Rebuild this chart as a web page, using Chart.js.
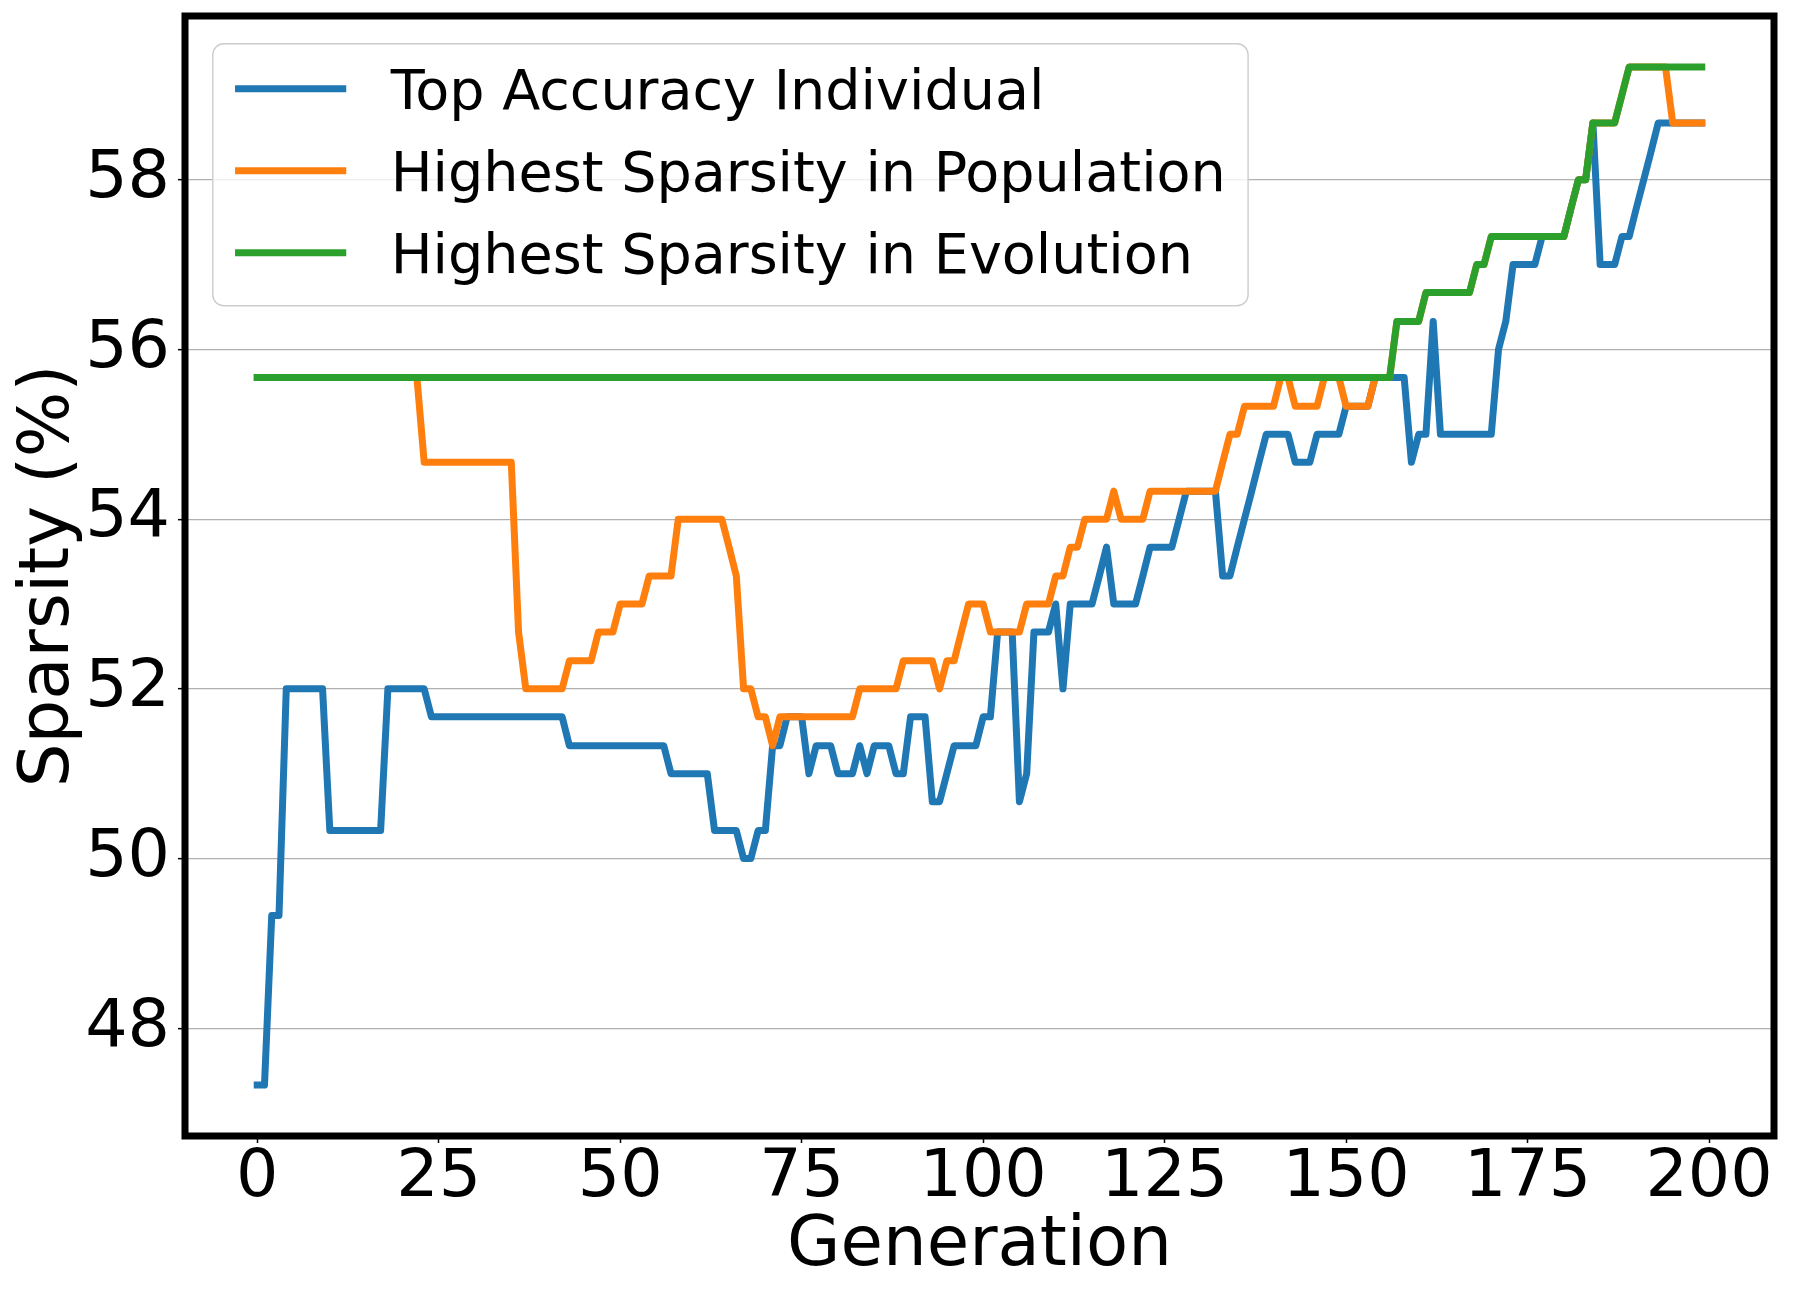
<!DOCTYPE html>
<html>
<head>
<meta charset="utf-8">
<script src="https://cdn.jsdelivr.net/npm/chart.js@4.4.1/dist/chart.umd.min.js"></script>
<style>
  html, body { margin: 0; padding: 0; background: #ffffff; }
  #wrap { width: 1800px; height: 1300px; }
</style>
</head>
<body>
<div id="wrap"><canvas id="c" width="1800" height="1300"></canvas></div>
<script>
// ---------------- data ----------------
const seriesNames = ["Top Accuracy Individual", "Highest Sparsity in Population", "Highest Sparsity in Evolution"];
const xTicks = [0, 25, 50, 75, 100, 125, 150, 175, 200];
const yTicks = [48, 50, 52, 54, 56, 58];

const topAccuracy = [
  47.33,47.33,49.33,49.33,52,52,52,52,52,52,
  50.33,50.33,50.33,50.33,50.33,50.33,50.33,50.33,52,52,
  52,52,52,52,51.67,51.67,51.67,51.67,51.67,51.67,
  51.67,51.67,51.67,51.67,51.67,51.67,51.67,51.67,51.67,51.67,
  51.67,51.67,51.67,51.33,51.33,51.33,51.33,51.33,51.33,51.33,
  51.33,51.33,51.33,51.33,51.33,51.33,51.33,51,51,51,
  51,51,51,50.33,50.33,50.33,50.33,50,50,50.33,
  50.33,51.33,51.33,51.67,51.67,51.67,51,51.33,51.33,51.33,
  51,51,51,51.33,51,51.33,51.33,51.33,51,51,
  51.67,51.67,51.67,50.67,50.67,51,51.33,51.33,51.33,51.33,
  51.67,51.67,52.67,52.67,52.67,50.67,51,52.67,52.67,52.67,
  53,52,53,53,53,53,53.33,53.67,53,53,
  53,53,53.33,53.67,53.67,53.67,53.67,54,54.33,54.33,
  54.33,54.33,54.33,53.33,53.33,53.67,54,54.33,54.67,55,
  55,55,55,54.67,54.67,54.67,55,55,55,55,
  55.33,55.33,55.33,55.33,55.67,55.67,55.67,55.67,55.67,54.67,
  55,55,56.33,55,55,55,55,55,55,55,
  55,56,56.33,57,57,57,57,57.33,57.33,57.33,
  57.33,57.67,58,58,58.67,57,57,57,57.33,57.33,
  57.67,58,58.33,58.67,58.67,58.67,58.67,58.67,58.67,58.67
];

const popSparsity = [
  55.67,55.67,55.67,55.67,55.67,55.67,55.67,55.67,55.67,55.67,
  55.67,55.67,55.67,55.67,55.67,55.67,55.67,55.67,55.67,55.67,
  55.67,55.67,55.67,54.67,54.67,54.67,54.67,54.67,54.67,54.67,
  54.67,54.67,54.67,54.67,54.67,54.67,52.67,52,52,52,
  52,52,52,52.33,52.33,52.33,52.33,52.67,52.67,52.67,
  53,53,53,53,53.33,53.33,53.33,53.33,54,54,
  54,54,54,54,54,53.67,53.33,52,52,51.67,
  51.67,51.33,51.67,51.67,51.67,51.67,51.67,51.67,51.67,51.67,
  51.67,51.67,51.67,52,52,52,52,52,52,52.33,
  52.33,52.33,52.33,52.33,52,52.33,52.33,52.67,53,53,
  53,52.67,52.67,52.67,52.67,52.67,53,53,53,53,
  53.33,53.33,53.67,53.67,54,54,54,54,54.33,54,
  54,54,54,54.33,54.33,54.33,54.33,54.33,54.33,54.33,
  54.33,54.33,54.33,54.67,55,55,55.33,55.33,55.33,55.33,
  55.33,55.67,55.67,55.33,55.33,55.33,55.33,55.67,55.67,55.67,
  55.33,55.33,55.33,55.33,55.67,55.67,55.67,56.33,56.33,56.33,
  56.33,56.67,56.67,56.67,56.67,56.67,56.67,56.67,57,57,
  57.33,57.33,57.33,57.33,57.33,57.33,57.33,57.33,57.33,57.33,
  57.33,57.67,58,58,58.67,58.67,58.67,58.67,59,59.33,
  59.33,59.33,59.33,59.33,59.33,58.67,58.67,58.67,58.67,58.67
];

const evoSparsity = [
  55.67,55.67,55.67,55.67,55.67,55.67,55.67,55.67,55.67,55.67,
  55.67,55.67,55.67,55.67,55.67,55.67,55.67,55.67,55.67,55.67,
  55.67,55.67,55.67,55.67,55.67,55.67,55.67,55.67,55.67,55.67,
  55.67,55.67,55.67,55.67,55.67,55.67,55.67,55.67,55.67,55.67,
  55.67,55.67,55.67,55.67,55.67,55.67,55.67,55.67,55.67,55.67,
  55.67,55.67,55.67,55.67,55.67,55.67,55.67,55.67,55.67,55.67,
  55.67,55.67,55.67,55.67,55.67,55.67,55.67,55.67,55.67,55.67,
  55.67,55.67,55.67,55.67,55.67,55.67,55.67,55.67,55.67,55.67,
  55.67,55.67,55.67,55.67,55.67,55.67,55.67,55.67,55.67,55.67,
  55.67,55.67,55.67,55.67,55.67,55.67,55.67,55.67,55.67,55.67,
  55.67,55.67,55.67,55.67,55.67,55.67,55.67,55.67,55.67,55.67,
  55.67,55.67,55.67,55.67,55.67,55.67,55.67,55.67,55.67,55.67,
  55.67,55.67,55.67,55.67,55.67,55.67,55.67,55.67,55.67,55.67,
  55.67,55.67,55.67,55.67,55.67,55.67,55.67,55.67,55.67,55.67,
  55.67,55.67,55.67,55.67,55.67,55.67,55.67,55.67,55.67,55.67,
  55.67,55.67,55.67,55.67,55.67,55.67,55.67,56.33,56.33,56.33,
  56.33,56.67,56.67,56.67,56.67,56.67,56.67,56.67,57,57,
  57.33,57.33,57.33,57.33,57.33,57.33,57.33,57.33,57.33,57.33,
  57.33,57.67,58,58,58.67,58.67,58.67,58.67,59,59.33,
  59.33,59.33,59.33,59.33,59.33,59.33,59.33,59.33,59.33,59.33
];

const generations = topAccuracy.map((_, i) => i);
const colors = ["#1f77b4", "#ff7f0e", "#2ca02c"];
const FONT = "DejaVu Sans";
const LINE_W = 7;

// ---------------- plugins (frame + legend) ----------------
const framePlugin = {
  id: "frame",
  afterDatasetsDraw(chart) {
    const a = chart.chartArea, ctx = chart.ctx;
    ctx.save();
    ctx.strokeStyle = "#000";
    ctx.lineWidth = 7;
    ctx.lineJoin = "miter";
    ctx.strokeRect(a.left, a.top, a.right - a.left, a.bottom - a.top);
    ctx.restore();
  }
};

const legendPlugin = {
  id: "mplLegend",
  afterDraw(chart) {
    const a = chart.chartArea, ctx = chart.ctx;
    const fs = 55.6;
    ctx.save();
    ctx.font = fs + "px '" + FONT + "'";
    const ds = chart.data.datasets;
    let maxW = 0;
    ds.forEach(d => { maxW = Math.max(maxW, ctx.measureText(d.label).width); });
    const x0 = a.left + 0.5 * fs;
    const y0 = a.top + 0.5 * fs;
    const w = 0.4 * fs * 2 + 2.0 * fs + 0.8 * fs + maxW;
    const h = 262;
    const r = 11;
    ctx.beginPath();
    ctx.moveTo(x0 + r, y0);
    ctx.lineTo(x0 + w - r, y0);
    ctx.arcTo(x0 + w, y0, x0 + w, y0 + r, r);
    ctx.lineTo(x0 + w, y0 + h - r);
    ctx.arcTo(x0 + w, y0 + h, x0 + w - r, y0 + h, r);
    ctx.lineTo(x0 + r, y0 + h);
    ctx.arcTo(x0, y0 + h, x0, y0 + h - r, r);
    ctx.lineTo(x0, y0 + r);
    ctx.arcTo(x0, y0, x0 + r, y0, r);
    ctx.closePath();
    ctx.fillStyle = "rgba(255,255,255,0.8)";
    ctx.fill();
    ctx.strokeStyle = "#cccccc";
    ctx.lineWidth = 1.4;
    ctx.stroke();
    const rowStep = 82;
    ds.forEach((d, i) => {
      const cy = y0 + 45 + i * rowStep;
      const hx = x0 + 0.4 * fs;
      ctx.beginPath();
      ctx.moveTo(hx, cy);
      ctx.lineTo(hx + 2.0 * fs, cy);
      ctx.strokeStyle = d.borderColor;
      ctx.lineWidth = LINE_W;
      ctx.lineCap = "butt";
      ctx.stroke();
      ctx.fillStyle = "#000";
      ctx.textBaseline = "alphabetic";
      ctx.textAlign = "left";
      ctx.fillText(d.label, hx + 2.8 * fs, cy + 0.729 * fs / 2);
    });
    ctx.restore();
  }
};

// ---------------- chart ----------------
const mk = (i, arr, order) => ({
  label: seriesNames[i],
  data: generations.map((g, k) => ({ x: g, y: arr[k] })),
  borderColor: colors[i],
  backgroundColor: colors[i],
  borderWidth: LINE_W,
  pointRadius: 0,
  tension: 0,
  fill: false,
  borderJoinStyle: "round",
  borderCapStyle: "square",
  order: order
});

new Chart(document.getElementById("c"), {
  type: "line",
  data: {
    datasets: [mk(0, topAccuracy, 3), mk(1, popSparsity, 2), mk(2, evoSparsity, 1)]
  },
  options: {
    animation: false,
    responsive: false,
    devicePixelRatio: 1,
    layout: { padding: { left: 0, right: 26, top: 16, bottom: 0 } },
    plugins: { legend: { display: false }, tooltip: { enabled: false } },
    scales: {
      x: {
        type: "linear",
        min: -9.95,
        max: 208.95,
        afterBuildTicks: s => { s.ticks = xTicks.map(v => ({ value: v })); },
        afterFit: s => { s.height = 164; s.paddingLeft = 0; s.paddingRight = 0; },
        grid: { drawOnChartArea: false, drawTicks: true, tickLength: 7, tickColor: "#000", tickWidth: 1.5 },
        border: { display: false },
        ticks: { font: { family: FONT, size: 66.7 }, color: "#000", padding: -4, maxRotation: 0, autoSkip: false },
        title: { display: true, text: "Generation", color: "#000", font: { family: FONT, size: 69 }, padding: { top: 0, bottom: 12 } }
      },
      y: {
        type: "linear",
        min: 46.73,
        max: 59.93,
        afterBuildTicks: s => { s.ticks = yTicks.map(v => ({ value: v })); },
        afterFit: s => { s.width = 185; s.paddingTop = 0; s.paddingBottom = 0; },
        grid: { color: "#b0b0b0", lineWidth: 1.3, drawTicks: true, tickLength: 7, tickColor: "#000", tickWidth: 1.5 },
        border: { display: false },
        ticks: { font: { family: FONT, size: 66.7 }, color: "#000", padding: 8 },
        title: { display: true, text: "Sparsity (%)", color: "#000", font: { family: FONT, size: 69 }, padding: { top: 9, bottom: 0 } }
      }
    }
  },
  plugins: [framePlugin, legendPlugin]
});
</script>
</body>
</html>
